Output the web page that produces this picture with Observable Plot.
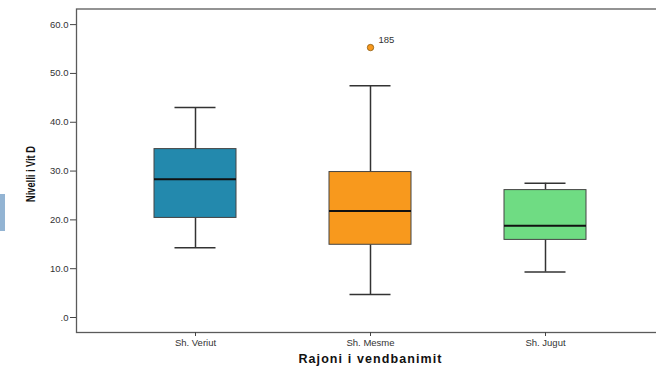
<!DOCTYPE html>
<html>
<head>
<meta charset="utf-8">
<script src="https://cdn.jsdelivr.net/npm/d3@7"></script>
<script src="https://cdn.jsdelivr.net/npm/@observablehq/plot@0.6"></script>
<style>
  html, body { margin: 0; padding: 0; background: #fff; }
  #wrap { position: relative; width: 656px; height: 369px; overflow: hidden; }
  #tab { position: absolute; left: 0; top: 194px; width: 5px; height: 37px; background: #93b4d3; }
  svg { font-family: "Liberation Sans", Arial, sans-serif; }
</style>
</head>
<body>
<div id="wrap"><div id="tab"></div><div id="chart"></div></div>
<script>
const categories = ["Sh. Veriut", "Sh. Mesme", "Sh. Jugut"];
const lowerWhisker = [14.3, 4.7, 9.3];
const q1 = [20.4, 14.9, 15.9];
const median = [28.3, 21.8, 18.8];
const q3 = [34.5, 29.8, 26.1];
const upperWhisker = [43.0, 47.5, 27.5];
const colors = ["#2389ad", "#f8991d", "#6fdc83"];
const outlierCats = ["Sh. Mesme"];
const outlierValues = [55.3];
const outlierLabels = ["185"];
const yTicks = [0, 10, 20, 30, 40, 50, 60];
const yTitle = "Nivelli i Vit D";
const xTitle = "Rajoni i vendbanimit";

const boxes = categories.map((c, i) => ({
  cat: c, lo: lowerWhisker[i], q1: q1[i], med: median[i], q3: q3[i], hi: upperWhisker[i], color: colors[i]
}));
const outliers = outlierCats.map((c, i) => ({ cat: c, value: outlierValues[i], label: outlierLabels[i] }));

const chart = Plot.plot({
  width: 656,
  height: 369,
  marginTop: 8.5,
  marginBottom: 37,
  marginLeft: 76,
  marginRight: -8,
  style: { fontFamily: '"Liberation Sans", Arial, sans-serif', background: "#fff" },
  x: { type: "band", domain: categories, paddingInner: 0.534, paddingOuter: 0.4375, label: null },
  y: { domain: [-3.07, 63.2], label: null },
  color: { type: "identity" },
  marks: [
    Plot.frame({ stroke: "#5a5a5a", strokeWidth: 1.3 }),
    Plot.axisY({
      ticks: yTicks, tickSize: 6, tickPadding: 2, fontSize: 9.5, color: "#333",
      stroke: "#444", tickFormat: d => d === 0 ? ".0" : d.toFixed(1), label: null
    }),
    Plot.axisX({ tickSize: 4, tickPadding: 3, fontSize: 9.5, color: "#333", stroke: "#444", label: null }),
    // whiskers
    Plot.ruleX(boxes, { x: "cat", y1: "lo", y2: "q1", stroke: "#333", strokeWidth: 1.5 }),
    Plot.ruleX(boxes, { x: "cat", y1: "q3", y2: "hi", stroke: "#333", strokeWidth: 1.5 }),
    // caps
    Plot.tickY(boxes, { x: "cat", y: "lo", stroke: "#333", strokeWidth: 1.5, insetLeft: 20.5, insetRight: 20.5 }),
    Plot.tickY(boxes, { x: "cat", y: "hi", stroke: "#333", strokeWidth: 1.5, insetLeft: 20.5, insetRight: 20.5 }),
    // boxes
    Plot.barY(boxes, { x: "cat", y1: "q1", y2: "q3", fill: "color", stroke: "#444", strokeWidth: 1 }),
    // medians
    Plot.tickY(boxes, { x: "cat", y: "med", stroke: "#111", strokeWidth: 2 }),
    // outliers
    Plot.dot(outliers, { x: "cat", y: "value", r: 3.2, fill: "#f8991d", stroke: "#8a5a10", strokeWidth: 0.8 }),
    Plot.text(outliers, { x: "cat", y: "value", text: "label", dx: 8, dy: -8, textAnchor: "start", fontSize: 9.5, fill: "#333" }),
    // x title
    Plot.text([xTitle], { frameAnchor: "bottom", dy: 30, text: d => d, fontSize: 12.5, fontWeight: "bold", fill: "#111" })
  ]
});
document.getElementById("chart").appendChild(chart);
chart.querySelectorAll("text").forEach(t => {
  if (t.textContent === xTitle) t.setAttribute("letter-spacing", "1.1");
});
// y title: condensed bold, rotated
const ns = "http://www.w3.org/2000/svg";
const yt = document.createElementNS(ns, "text");
yt.textContent = yTitle;
yt.setAttribute("transform", "translate(35,174) rotate(-90) scale(0.74,1)");
yt.setAttribute("text-anchor", "middle");
yt.setAttribute("font-size", "12.5");
yt.setAttribute("font-weight", "bold");
yt.setAttribute("fill", "#111");
chart.appendChild(yt);
</script>
</body>
</html>
